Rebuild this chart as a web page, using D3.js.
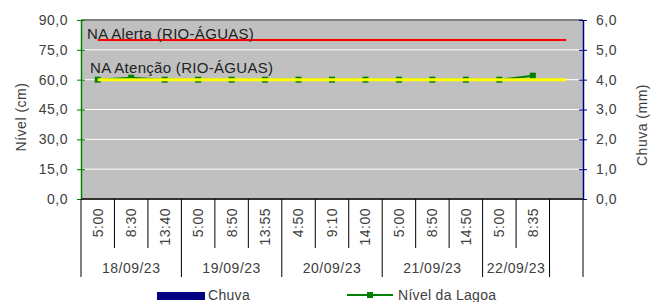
<!DOCTYPE html>
<html>
  <head>
    <meta charset="utf-8">
    <script src="https://d3js.org/d3.v7.min.js"></script>
    <style>
      body { margin: 0; background: #fff; }
      text { font-family: "Liberation Sans", Arial, sans-serif; fill: #404040; }
    </style>
  </head>
  <body>
    <script type="text/javascript">
      // leituras por horario
      var horas = ["5:00", "8:30", "13:40", "5:00", "8:50", "13:55", "4:50", "9:10", "14:00", "5:00", "8:50", "14:50", "5:00", "8:35", ""];
      var dias = ["18/09/23", "19/09/23", "20/09/23", "21/09/23", "22/09/23", ""];
      var diasN = [3, 3, 3, 3, 2, 1];

      var nivel = [60.0, 61.0, 60.0, 60.0, 60.0, 60.0, 60.0, 60.0, 60.0, 60.0, 60.0, 60.0, 60.0, 62.0, null];
      var chuva = [0, 0, 0, 0, 0, 0, 0, 0, 0, 0, 0, 0, 0, 0, 0];
      var alerta = [80, 80, 80, 80, 80, 80, 80, 80, 80, 80, 80, 80, 80, 80, 80];
      var atencao = [60, 60, 60, 60, 60, 60, 60, 60, 60, 60, 60, 60, 60, 60, 60];

      var ticksNivel = [0, 15, 30, 45, 60, 75, 90];
      var ticksChuva = [0, 1, 2, 3, 4, 5, 6];

      var pLeft = 81, pRight = 583, pTop = 20, pBottom = 199;
      var fmt = function(d) { return d3.format(".1f")(d).replace(".", ","); };

      var svg = d3.select("body").append("svg")
          .attr("width", 651)
          .attr("height", 302);

      var idx = horas.map(function(d, i) { return i; });
      var x = d3.scaleBand().domain(idx).range([pLeft, pRight]).padding(0);
      var cx = function(i) { return x(i) + x.bandwidth() / 2; };

      var yL = d3.scaleLinear().domain([0, 90]).range([pBottom, pTop]);
      var yR = d3.scaleLinear().domain([0, 6]).range([pBottom, pTop]);

      // fundo da area do grafico
      svg.append("rect")
        .attr("x", pLeft).attr("y", pTop)
        .attr("width", pRight - pLeft).attr("height", pBottom - pTop)
        .attr("fill", "#c0c0c0");

      svg.selectAll(".grid")
        .data(ticksNivel.slice(1, -1))
        .enter().append("line")
        .attr("x1", pLeft).attr("x2", pRight)
        .attr("y1", function(d) { return yL(d); })
        .attr("y2", function(d) { return yL(d); })
        .attr("stroke", "#fff").attr("stroke-width", 1);

      svg.append("line")
        .attr("x1", pLeft).attr("x2", pRight)
        .attr("y1", yL(90)).attr("y2", yL(90))
        .attr("stroke", "#808080").attr("stroke-width", 2);

      // chuva (barras)
      svg.selectAll(".bar")
        .data(chuva)
        .enter().append("rect")
        .attr("x", function(d, i) { return x(i) + x.bandwidth() * 0.25; })
        .attr("y", function(d) { return yR(d); })
        .attr("width", x.bandwidth() * 0.5)
        .attr("height", function(d) { return pBottom - yR(d); })
        .attr("fill", "#000080");

      // nivel da lagoa
      var lineN = d3.line()
        .defined(function(d) { return d != null; })
        .x(function(d, i) { return cx(i); })
        .y(function(d) { return yL(d); });

      svg.append("path")
        .datum(nivel)
        .attr("d", lineN)
        .attr("fill", "none")
        .attr("stroke", "#008000")
        .attr("stroke-width", 2);

      svg.selectAll(".mk")
        .data(nivel.map(function(d, i) { return {v: d, i: i}; }).filter(function(d) { return d.v != null; }))
        .enter().append("rect")
        .attr("x", function(d) { return cx(d.i) - 3; })
        .attr("y", function(d) { return yL(d.v) - 3; })
        .attr("width", 6).attr("height", 6)
        .attr("fill", "#008000");

      // cotas de referencia
      svg.append("path")
        .datum(atencao)
        .attr("d", lineN)
        .attr("fill", "none")
        .attr("stroke", "#ffff00")
        .attr("stroke-width", 3);

      svg.append("path")
        .datum(alerta)
        .attr("d", lineN)
        .attr("fill", "none")
        .attr("stroke", "#ff0000")
        .attr("stroke-width", 2);

      svg.append("text")
        .attr("x", 87).attr("y", 39)
        .style("font-size", "15px").style("letter-spacing", "0.3px").style("fill", "#222")
        .text("NA Alerta (RIO-ÁGUAS)");

      svg.append("text")
        .attr("x", 90).attr("y", 73)
        .style("font-size", "15px").style("letter-spacing", "0.3px").style("fill", "#222")
        .text("NA Atenção (RIO-ÁGUAS)");

      // eixo esquerdo
      var axL = svg.append("g")
        .attr("transform", "translate(" + pLeft + ",0)")
        .call(d3.axisLeft(yL).tickValues(ticksNivel).tickFormat(fmt).tickSizeInner(4).tickSizeOuter(0).tickPadding(9));
      axL.select(".domain").attr("stroke", "#008000").attr("stroke-width", 1.5);
      axL.selectAll(".tick line").attr("stroke", "#008000").attr("x2", -4).attr("x1", 4);
      axL.selectAll("text").style("font-size", "14px").style("letter-spacing", "0.5px")
        .style("font-family", "'Liberation Sans', Arial, sans-serif").attr("fill", "#404040");

      // eixo direito
      var axR = svg.append("g")
        .attr("transform", "translate(" + pRight + ",0)")
        .call(d3.axisRight(yR).tickValues(ticksChuva).tickFormat(fmt).tickSizeInner(4).tickSizeOuter(0).tickPadding(9));
      axR.select(".domain").attr("stroke", "#000080").attr("stroke-width", 1.5);
      axR.selectAll(".tick line").attr("stroke", "#000080").attr("x1", -4).attr("x2", 4);
      axR.selectAll("text").style("font-size", "14px").style("letter-spacing", "0.5px")
        .style("font-family", "'Liberation Sans', Arial, sans-serif").attr("fill", "#404040");

      // eixo x
      svg.append("line")
        .attr("x1", pLeft).attr("x2", pRight)
        .attr("y1", pBottom).attr("y2", pBottom)
        .attr("stroke", "#333").attr("stroke-width", 2);

      var bounds = [0];
      diasN.forEach(function(n) { bounds.push(bounds[bounds.length - 1] + n); });

      svg.selectAll(".xt")
        .data(idx.concat([horas.length]))
        .enter().append("line")
        .attr("x1", function(i) { return i < horas.length ? x(i) : pRight; })
        .attr("x2", function(i) { return i < horas.length ? x(i) : pRight; })
        .attr("y1", pBottom)
        .attr("y2", function(i) { return bounds.indexOf(i) >= 0 ? 277 : 248; })
        .attr("stroke", "#000").attr("stroke-width", 1);

      svg.selectAll(".xl")
        .data(horas)
        .enter().append("text")
        .attr("transform", function(d, i) { return "translate(" + cx(i) + ",208) rotate(-90)"; })
        .attr("dy", "0.35em")
        .attr("text-anchor", "end")
        .style("font-size", "14px").style("letter-spacing", "0.5px")
        .text(function(d) { return d; });

      svg.selectAll(".dl")
        .data(dias)
        .enter().append("text")
        .attr("x", function(d, i) {
          var a = x(bounds[i]);
          var b = bounds[i + 1] < horas.length ? x(bounds[i + 1]) : pRight;
          return (a + b) / 2;
        })
        .attr("y", 273)
        .attr("text-anchor", "middle")
        .style("font-size", "14px").style("letter-spacing", "0.5px")
        .text(function(d) { return d; });

      // titulos dos eixos
      svg.append("text")
        .attr("transform", "translate(26,117) rotate(-90)")
        .attr("text-anchor", "middle")
        .style("font-size", "14px").style("letter-spacing", "0.5px")
        .text("Nível (cm)");

      svg.append("text")
        .attr("transform", "translate(647,125) rotate(-90)")
        .attr("text-anchor", "middle")
        .style("font-size", "14px").style("letter-spacing", "0.5px")
        .text("Chuva (mm)");

      // legenda
      var leg = svg.append("g");
      leg.append("rect")
        .attr("x", 157).attr("y", 292).attr("width", 48).attr("height", 8)
        .attr("fill", "#000080");
      leg.append("text")
        .attr("x", 208).attr("y", 300)
        .style("font-size", "14px").style("letter-spacing", "0.3px")
        .text("Chuva");
      leg.append("line")
        .attr("x1", 347).attr("x2", 393).attr("y1", 295).attr("y2", 295)
        .attr("stroke", "#008000").attr("stroke-width", 2);
      leg.append("rect")
        .attr("x", 367).attr("y", 292).attr("width", 6).attr("height", 6)
        .attr("fill", "#008000");
      leg.append("text")
        .attr("x", 398).attr("y", 300)
        .style("font-size", "14px").style("letter-spacing", "0.3px")
        .text("Nível da Lagoa");
    </script>
  </body>
</html>
